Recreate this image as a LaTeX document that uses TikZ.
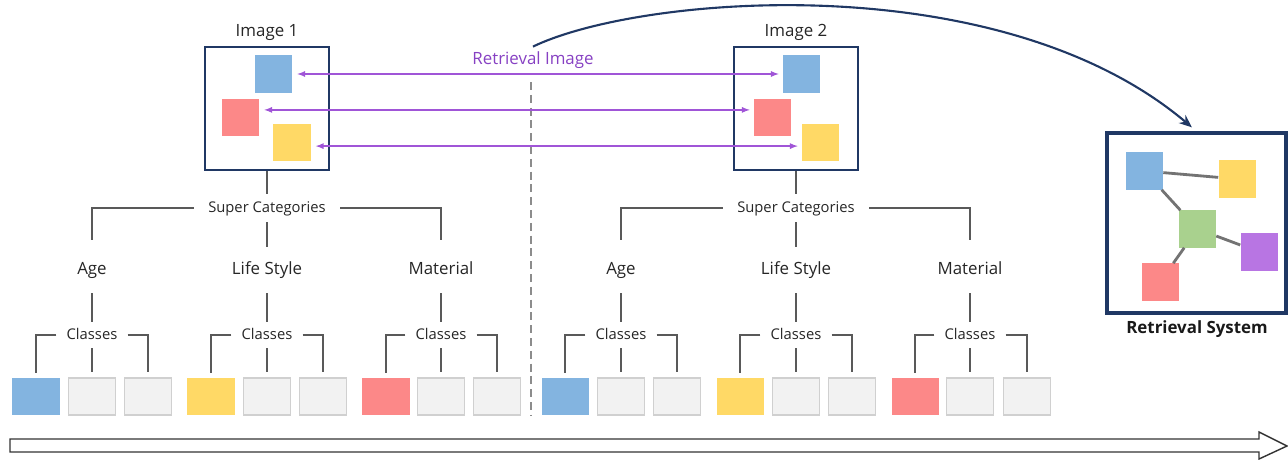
\documentclass[tikz,border=0pt]{standalone}
\usepackage{fontspec}
\setmainfont{Open Sans}
\usepackage{tikz}
\usetikzlibrary{calc, positioning, arrows, arrows.meta, backgrounds}
\definecolor{navy}{RGB}{32,56,100}
\definecolor{sqblue}{RGB}{131,180,224}
\definecolor{sqred}{RGB}{252,136,136}
\definecolor{sqyellow}{RGB}{255,217,102}
\definecolor{sqgreen}{RGB}{169,209,142}
\definecolor{sqpurple}{RGB}{184,117,227}
\definecolor{retpurple}{RGB}{160,85,215}
\definecolor{rettext}{RGB}{135,65,195}
\definecolor{linegray}{RGB}{89,89,89}
\definecolor{cellgray}{RGB}{242,242,242}
\definecolor{cellborder}{RGB}{208,208,208}
\tikzset{
	imgbox/.style={draw=navy, line width=1.8pt, minimum width=3.1cm, minimum height=3.075cm},
	obj/.style={inner sep=0pt, minimum size=0.925cm},
	cell/.style={inner sep=0pt, minimum width=1.175cm, minimum height=0.925cm},
	emptycell/.style={cell, fill=cellgray, draw=cellborder, line width=1.2pt},
	txt/.style={text=black!85, text height=1.6ex, text depth=0.4ex},
	title/.style={txt, font=\fontsize{12}{14}\selectfont},
	supcat/.style={txt, font=\fontsize{10.5}{12}\selectfont, inner xsep=0.35cm, minimum height=0.7cm},
	cat/.style={txt, font=\fontsize{12}{14}\selectfont, minimum height=1.15cm},
	cls/.style={txt, font=\fontsize{10.5}{12}\selectfont, inner xsep=0.25cm, minimum height=0.65cm},
	tree/.style={color=linegray, line width=1pt},
	elbow/.style={to path={-| (\tikztotarget)}},
	tocell/.style={shorten >=0.125cm},
	tocat/.style={shorten >=0.175cm},
	match/.style={color=retpurple, line width=0.9pt, latex-latex, shorten <=0.125cm, shorten >=0.1cm},
	sysedge/.style={color=black!55, line width=2pt}
}

\begin{document}
\begin{tikzpicture}[x=0.025cm, y=-0.025cm]
	\useasboundingbox (0,0) rectangle (1288,460);

	% the two images
	\node[title] (lbl1) at (267,32) {Image 1};
	\node[imgbox] (img1) at (267,108.5) {};
	\node[obj, fill=sqblue] (b1) at (273.5,74) {};
	\node[obj, fill=sqred] (r1) at (240.5,117.5) {};
	\node[obj, fill=sqyellow] (y1) at (292,142.5) {};

	\node[title] (lbl2) at (796,32) {Image 2};
	\node[imgbox] (img2) at (796,108.5) {};
	\node[obj, fill=sqblue] (b2) at (801.5,74) {};
	\node[obj, fill=sqred] (r2) at (772.5,117.5) {};
	\node[obj, fill=sqyellow] (y2) at (820.5,142.5) {};

	\node[font=\fontsize{12}{14}\selectfont, text=rettext] (ret) at (533,60) {Retrieval Image};
	\coordinate (dtop) at (531,82);
	\coordinate (dbot) at (531,415);
	\draw[black!45, line width=1pt, dash pattern=on 0.2cm off 0.12cm] (dtop) -- (dbot);

	\path[match]
	(b1) edge (b2)
	([yshift=0.19cm]r1.east) edge ([yshift=0.19cm]r2.west)
	([yshift=-0.09cm]y1.east) edge ([yshift=-0.09cm]y2.west)
	;

	% retrieval system
	\node[draw=navy, line width=2.5pt, minimum width=4.475cm, minimum height=4.5cm] (sys) at (1196.5,223) {};
	\node[font=\fontsize{12}{14}\selectfont\bfseries, text=black!90] (sysl) at (1197,329) {Retrieval System};
	\node[obj, fill=sqblue] (sb) at (1144.5,171) {};
	\node[obj, fill=sqyellow] (sy) at (1237,179) {};
	\node[obj, fill=sqgreen] (sg) at (1197.5,229) {};
	\node[obj, fill=sqpurple] (sp) at (1259,252) {};
	\node[obj, fill=sqred] (sr) at (1160,282) {};
	\path[sysedge]
	(sb) edge (sy)
	(sb) edge (sg)
	(sg) edge (sp)
	(sg) edge (sr)
	;

	\draw[navy, line width=1.5pt, -{Stealth[length=0.32cm, width=0.26cm]}, shorten >=0.15cm] (ret.north) .. controls (640,-5) and (1000,-35) .. (sys.north);

	% tree of image 1
	\node[supcat] (sc1) at (267,208) {Super Categories};
	\node[cat] (age1) at (92,270) {Age};
	\node[cat] (life1) at (267,270) {Life Style};
	\node[cat] (mat1) at (441,270) {Material};
	\node[cls] (ca1) at (92,335) {Classes};
	\node[cls] (cl1) at (267,335) {Classes};
	\node[cls] (cm1) at (441,335) {Classes};
	\node[cell, fill=sqblue] (a11) at (36,396.5) {};
	\node[emptycell] (a12) at (92,396.5) {};
	\node[emptycell] (a13) at (148,396.5) {};
	\node[cell, fill=sqyellow] (l11) at (211,396.5) {};
	\node[emptycell] (l12) at (267,396.5) {};
	\node[emptycell] (l13) at (323,396.5) {};
	\node[cell, fill=sqred] (m11) at (386,396.5) {};
	\node[emptycell] (m12) at (441,396.5) {};
	\node[emptycell] (m13) at (497,396.5) {};

	\path[tree]
	(img1) edge (sc1)
	(sc1) edge[elbow, tocat] (age1)
	(sc1) edge (life1)
	(sc1) edge[elbow, tocat] (mat1)
	(age1) edge (ca1)
	(life1) edge (cl1)
	(mat1) edge (cm1)
	(ca1) edge[elbow, tocell] (a11)
	(ca1) edge[tocell] (a12)
	(ca1) edge[elbow, tocell] (a13)
	(cl1) edge[elbow, tocell] (l11)
	(cl1) edge[tocell] (l12)
	(cl1) edge[elbow, tocell] (l13)
	(cm1) edge[elbow, tocell] (m11)
	(cm1) edge[tocell] (m12)
	(cm1) edge[elbow, tocell] (m13)
	;

	% tree of image 2
	\node[supcat] (sc2) at (796,208) {Super Categories};
	\node[cat] (age2) at (621,270) {Age};
	\node[cat] (life2) at (796,270) {Life Style};
	\node[cat] (mat2) at (970,270) {Material};
	\node[cls] (ca2) at (621,335) {Classes};
	\node[cls] (cl2) at (796,335) {Classes};
	\node[cls] (cm2) at (970,335) {Classes};
	\node[cell, fill=sqblue] (a21) at (565,396.5) {};
	\node[emptycell] (a22) at (621,396.5) {};
	\node[emptycell] (a23) at (677,396.5) {};
	\node[cell, fill=sqyellow] (l21) at (740,396.5) {};
	\node[emptycell] (l22) at (796,396.5) {};
	\node[emptycell] (l23) at (852,396.5) {};
	\node[cell, fill=sqred] (m21) at (915,396.5) {};
	\node[emptycell] (m22) at (970,396.5) {};
	\node[emptycell] (m23) at (1027,396.5) {};

	\path[tree]
	(img2) edge (sc2)
	(sc2) edge[elbow, tocat] (age2)
	(sc2) edge (life2)
	(sc2) edge[elbow, tocat] (mat2)
	(age2) edge (ca2)
	(life2) edge (cl2)
	(mat2) edge (cm2)
	(ca2) edge[elbow, tocell] (a21)
	(ca2) edge[tocell] (a22)
	(ca2) edge[elbow, tocell] (a23)
	(cl2) edge[elbow, tocell] (l21)
	(cl2) edge[tocell] (l22)
	(cl2) edge[elbow, tocell] (l23)
	(cm2) edge[elbow, tocell] (m21)
	(cm2) edge[tocell] (m22)
	(cm2) edge[elbow, tocell] (m23)
	;

	% time axis
	\draw[black!80, line width=1pt, fill=white] (10,439) -- (1259,439) -- (1259,432) -- (1287,446) -- (1259,459) -- (1259,452) -- (10,452) -- cycle;
\end{tikzpicture}
\end{document}
